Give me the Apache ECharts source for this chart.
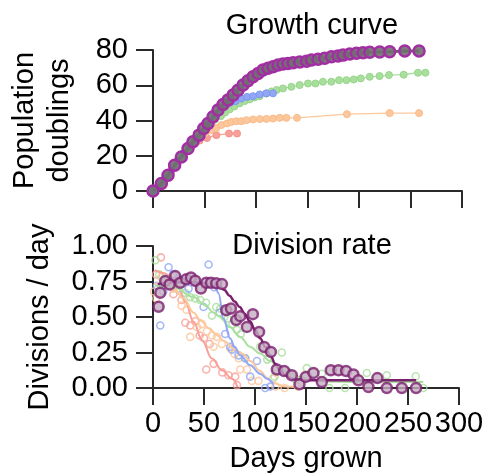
<!DOCTYPE html>
<html>
<head>
<meta charset="utf-8">
<script src="https://cdn.jsdelivr.net/npm/echarts@6/dist/echarts.min.js"></script>
<style>
  html, body { margin: 0; padding: 0; background: #fff; }
  #chart { width: 484px; height: 474px; }
</style>
</head>
<body>
<div id="chart"></div>
<script>
// ---- Growth curve: cumulative population doublings per line, [day, doublings]
const growthPurple = [
  [0,0],[8.1,4.2],[14.6,8.9],[21,14.6],[27.5,19.3],[34,24.1],[38.8,27.9],[44.7,31.7],
  [49.2,35.5],[53.4,38.3],[58.3,42.1],[63.1,45.9],[68,49.1],[72.8,51.6],[77.7,54.4],
  [82.5,57.2],[87.4,60.1],[92.2,62.5],[97.1,64.8],[102,66.7],[106.8,68.6],[111.7,69.6],
  [116.5,70.5],[121.4,71.5],[126.2,72],[131,72.4],[136,72.8],[142.4,73.2],[149,73.6],
  [153.8,74.3],[160.2,74.7],[166.7,75.3],[173.2,76.2],[179.6,76.6],[184.5,77.1],
  [191,77.7],[197.5,78.1],[203.9,78.5],[210.4,78.7],[220.1,78.9],[229.8,79],
  [244.4,79.4],[258.3,79.4]
];
const growthGreen = [
  [0,0],[5,2.5],[10,5.5],[15,9],[20,13.5],[25,17.5],[30,21],[35,24.5],[40,28],
  [45,31.5],[50,35],[55,38],[60,40.5],[66,42.5],[70,44.5],[74.5,46.4],[79,48],
  [84,49.7],[89,51],[93.9,52],[98.7,53.1],[103.6,53.8],[110,55.3],[115,56.5],
  [120,57.3],[126.2,58.2],[134.4,59.1],[142.4,60.1],[150.5,61],[157.7,61],[165,62],
  [173.2,62],[180.6,62.9],[187.8,62.9],[194.9,63.3],[201.7,63.9],[210.4,64.8],
  [220,65.2],[229.1,65.8],[243.4,66],[257.3,67.1],[264.5,67.1]
];
const growthBlue = [
  [0,0],[6,3.5],[12,7.5],[18,12],[24,17],[30,21.5],[36,25.5],[42,29.5],[48,34],
  [54,38.5],[60,42.5],[66,46.5],[71,49],[75.5,50.3],[80.3,51],[85.8,52.5],[91.3,53.4],
  [97.1,53.8],[103.6,54.8],[110.1,55.4],[116.5,55.4]
];
const growthOrange = [
  [0,0],[6,3.5],[12,7.5],[18,12],[24,17],[30,21.5],[36,25.5],[41,28.5],[46,31],
  [51,33],[56,34.5],[61.5,35.8],[66.4,37.4],[71.9,38.3],[76.1,39.2],[81,39.6],
  [85.8,39.6],[90.7,40.2],[97.1,40.6],[103.6,40.8],[110.1,40.9],[116.5,41.1],
  [123,41.5],[129.5,41.5],[139.8,41.5],[188.3,43.6],[229.8,44.2],[258.3,44.2]
];
const growthRed = [
  [0,0],[6,3],[12,7.5],[18,12],[24,17],[30,21.5],[36,25.5],[41,28],[45.3,28.6],
  [52.4,30.1],[61.5,31.7],[73.8,32.6],[81.6,32.6]
];

// ---- Division rate: measured rates per passage, [day, divisions/day]
const rateRed = [
  [3,0.80],[7.8,0.92],[13,0.74],[20,0.66],[28,0.62],[31.6,0.46],[36.5,0.44],
  [41.4,0.47],[45.7,0.37],[50,0.35],[55.5,0.31],[52.2,0.13],[59.4,0.17],[68,0.11],
  [74,0.09],[80.6,0.08],[82.3,0.02]
];
const rateOrange = [
  [1,0.68],[3.2,0.63],[8,0.78],[15,0.72],[20,0.70],[28,0.58],[33,0.55],[36.5,0.36],
  [43.1,0.43],[48,0.45],[52.9,0.40],[57.8,0.37],[62.7,0.36],[59.4,0.29],[67.6,0.31],
  [75.7,0.28],[80,0.24],[83.9,0.21],[85.5,0.13],[92.1,0.13],[97,0.05],[103.4,0.05],
  [117.6,0.066],[120,0.01],[129,0.0],[142,0.01]
];
const rateGreen = [
  [2.3,0.90],[6,0.80],[12,0.76],[18,0.74],[25,0.70],[31.6,0.67],[36.5,0.64],
  [41.4,0.63],[46.3,0.62],[52,0.60],[57.8,0.51],[62,0.57],[65.9,0.56],[70,0.50],
  [73.1,0.49],[78,0.45],[82.3,0.41],[86,0.38],[90.4,0.21],[105,0.29],[112,0.20],
  [119.2,0.08],[126.3,0.25],[133,0.11],[140,0.06],[150.8,0.14],[165.5,0.10],
  [173,0.0],[188.3,0.0],[209.6,0.106],[229.2,0.09],[257.6,0.083],[265,0.0]
];
const rateBlue = [
  [3.9,0.72],[7.1,0.44],[10,0.68],[15.3,0.85],[19.6,0.80],[25,0.77],[34.9,0.70],
  [42,0.74],[49.6,0.57],[54.5,0.87],[60,0.71],[65.2,0.53],[70.8,0.38],[75.7,0.29],
  [77.4,0.27],[83.9,0.23],[90.4,0.21],[95.3,0.08],[101.9,0.19],[110,0.0],[115,0.01]
];
const ratePurple = [
  [5.5,0.572],[7.1,0.671],[12,0.753],[16.3,0.729],[21.8,0.788],[26.7,0.741],
  [32.6,0.765],[37.2,0.779],[41.4,0.755],[47,0.701],[52.2,0.741],[56.8,0.741],
  [62,0.737],[67.6,0.732],[71.8,0.548],[76.4,0.560],[81.6,0.478],[85.5,0.506],
  [92.1,0.43],[97.9,0.52],[104,0.395],[109,0.289],[115.6,0.254],[121.4,0.13],
  [128.6,0.12],[136.1,0.09],[143.6,0.026],[149.8,0.078],[157.3,0.106],[165.5,0.042],
  [174.3,0.125],[181.8,0.125],[189.3,0.12],[196.5,0.095],[201.4,0.054],[211.2,0.007],
  [220,0.07],[229.2,0],[243.9,0],[257.9,0]
];

// ---- Fitted division-rate curves, [day, divisions/day]
const fitRed = [
  [2,0.83],[10,0.81],[17,0.79],[25,0.70],[31.6,0.607],[39.8,0.466],[48,0.337],
  [57.8,0.207],[67.6,0.125],[77.4,0.066],[83,0.005]
];
const fitOrange = [
  [1,0.73],[10,0.74],[20,0.70],[30,0.63],[40,0.53],[46.3,0.478],[55,0.42],
  [62.7,0.372],[70,0.33],[79,0.278],[88,0.24],[95.3,0.19],[105,0.12],[112,0.07],
  [118,0.035],[130,0.01],[145,0.0]
];
const fitGreen = [
  [2,0.72],[20,0.71],[40,0.64],[50,0.59],[60,0.53],[65.9,0.50],[75,0.43],[85.5,0.36],
  [95,0.29],[105,0.243],[115,0.19],[124,0.137],[135,0.10],[144,0.078],[155,0.06],
  [170,0.045],[200,0.042],[265,0.042]
];
const fitBlue = [
  [4,0.73],[20,0.74],[40,0.74],[55,0.73],[61,0.71],[64.3,0.666],[69.1,0.49],
  [75.7,0.349],[80,0.29],[85.5,0.231],[95.3,0.16],[105,0.10],[111.6,0.066],[118,0.03]
];
const fitPurple = [
  [5,0.73],[10,0.74],[20,0.745],[30,0.745],[40,0.745],[50,0.74],[60,0.73],[65,0.72],
  [70,0.69],[75,0.65],[80,0.61],[85,0.57],[90,0.52],[95,0.47],[100,0.41],[105,0.35],
  [110,0.29],[115,0.23],[120,0.17],[125,0.12],[130,0.09],[135,0.07],[140,0.06],
  [150,0.055],[200,0.055],[258,0.055]
];

// ---- Axis ticks
const dayTicks = { min: 0, max: 300, step: 50 };
const doublingTicks = { min: 0, max: 80, step: 20 };
const rateTicks = { min: 0, max: 1, step: 0.25 };

const FONT = 'Liberation Sans, Arial, Helvetica, sans-serif';
const INK = '#2a2a2a';
const TICK_LEN = 17;
const TICK_FONT = 29;

const colors = {
  red: '#f8a199',
  orange: '#fdc79c',
  green: '#a9df9d',
  blue: '#90a6f6',
  purpleRing: '#a22ea3',
  purpleDark: '#7a1f6e'
};

function axisCommon() {
  return {
    axisLine: { show: true, onZero: false, lineStyle: { color: INK, width: 2 } },
    axisTick: { show: true, length: TICK_LEN, lineStyle: { color: INK, width: 2 } },
    splitLine: { show: false }
  };
}

function growthSeries(data, color, edge) {
  return {
    type: 'line', xAxisIndex: 0, yAxisIndex: 0, data: data,
    symbol: 'circle', symbolSize: 7,
    lineStyle: { color: color, width: 1.3 },
    itemStyle: { color: color, borderColor: edge, borderWidth: 1 },
    animation: false
  };
}
function rateScatter(data, color) {
  return {
    type: 'scatter', xAxisIndex: 1, yAxisIndex: 1, data: data,
    symbol: 'circle', symbolSize: 7,
    itemStyle: { color: 'rgba(255,255,255,0)', borderColor: color, borderWidth: 1.6 },
    animation: false
  };
}
function rateFit(data, color, width) {
  return {
    type: 'line', xAxisIndex: 1, yAxisIndex: 1, data: data,
    smooth: 0.4, smoothMonotone: 'x', showSymbol: false, symbol: 'none',
    lineStyle: { color: color, width: width },
    animation: false
  };
}

const chart = echarts.init(document.getElementById('chart'), null, { renderer: 'canvas' });

chart.setOption({
  backgroundColor: '#fff',
  animation: false,
  title: [
    { text: 'Growth curve', left: 307, top: 6, textAlign: 'center',
      textStyle: { fontFamily: FONT, fontSize: 29, fontWeight: 'normal', color: '#000' } },
    { text: 'Division rate', left: 307, top: 226, textAlign: 'center',
      textStyle: { fontFamily: FONT, fontSize: 29, fontWeight: 'normal', color: '#000' } }
  ],
  grid: [
    { left: 153, right: 22, top: 50, height: 141, outerBoundsMode: 'none', containLabel: false },
    { left: 153, right: 25, top: 246, height: 142, outerBoundsMode: 'none', containLabel: false }
  ],
  xAxis: [
    Object.assign(axisCommon(), {
      type: 'value', gridIndex: 0, min: dayTicks.min, max: dayTicks.max, interval: dayTicks.step,
      axisLabel: { show: false }
    }),
    Object.assign(axisCommon(), {
      type: 'value', gridIndex: 1, min: dayTicks.min, max: dayTicks.max, interval: dayTicks.step,
      axisLabel: { color: '#000', fontSize: TICK_FONT, fontFamily: FONT, margin: TICK_LEN + 4,
        hideOverlap: false },
      name: 'Days grown', nameLocation: 'middle', nameGap: 56,
      nameTextStyle: { color: '#000', fontSize: 29, fontFamily: FONT }
    })
  ],
  yAxis: [
    Object.assign(axisCommon(), {
      type: 'value', gridIndex: 0, min: doublingTicks.min, max: doublingTicks.max, interval: doublingTicks.step,
      axisLabel: { color: '#000', fontSize: TICK_FONT, fontFamily: FONT, margin: TICK_LEN + 8 },
      name: 'Population\ndoublings', nameLocation: 'middle', nameGap: 76, nameRotate: 90,
      nameTextStyle: { color: '#000', fontSize: 29, fontFamily: FONT, lineHeight: 35 }
    }),
    Object.assign(axisCommon(), {
      type: 'value', gridIndex: 1, min: rateTicks.min, max: rateTicks.max, interval: rateTicks.step,
      axisLabel: { color: '#000', fontSize: TICK_FONT, fontFamily: FONT, margin: TICK_LEN + 8,
        formatter: v => v.toFixed(2) },
      name: 'Divisions / day', nameLocation: 'middle', nameGap: 99, nameRotate: 90,
      nameTextStyle: { color: '#000', fontSize: 29, fontFamily: FONT }
    })
  ],
  series: [
    growthSeries(growthRed, colors.red, '#f39189'),
    growthSeries(growthOrange, colors.orange, '#f9bb8a'),
    growthSeries(growthGreen, colors.green, '#98d48b'),
    growthSeries(growthBlue, colors.blue, '#7f97ee'),
    {
      type: 'line', xAxisIndex: 0, yAxisIndex: 0, data: growthPurple,
      symbol: 'circle', symbolSize: 11,
      lineStyle: { color: '#666', width: 3 },
      itemStyle: { color: 'rgba(112,112,112,0.9)', borderColor: colors.purpleRing, borderWidth: 2.5 },
      animation: false, z: 5
    },
    rateScatter(rateRed, colors.red),
    rateScatter(rateOrange, colors.orange),
    rateScatter(rateGreen, colors.green),
    rateScatter(rateBlue, colors.blue),
    rateFit(fitRed, colors.red, 2),
    rateFit(fitOrange, colors.orange, 2),
    rateFit(fitGreen, colors.green, 2),
    rateFit(fitBlue, colors.blue, 2),
    rateFit(fitPurple, colors.purpleDark, 2.5),
    {
      type: 'scatter', xAxisIndex: 1, yAxisIndex: 1, data: ratePurple,
      symbol: 'circle', symbolSize: 10,
      itemStyle: { color: '#c4adc2', borderColor: colors.purpleDark, borderWidth: 2.5 },
      animation: false, z: 6
    }
  ]
});
</script>
</body>
</html>
